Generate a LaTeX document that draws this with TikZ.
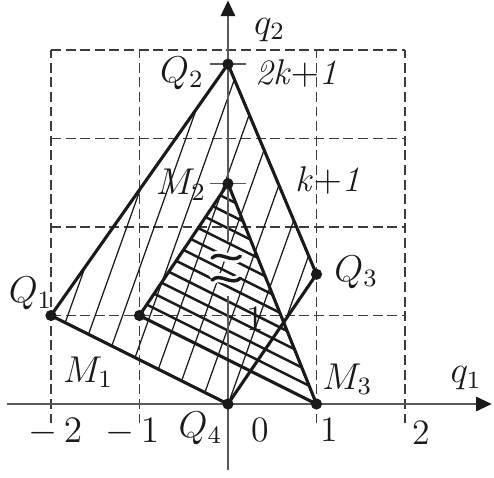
\documentclass[tikz,border=0pt]{standalone}
\usepackage{amsmath}
\usepackage{tikz}
\usetikzlibrary{arrows.meta,positioning,calc}
\definecolor{cAxis}{HTML}{5A5A5A}
\definecolor{cGrid}{HTML}{3C3C3C}
\definecolor{cInk}{HTML}{1A1A1A}
\tikzset{
  axis/.style={cAxis, line width=0.55pt},
  axisarr/.style={axis, -{Triangle[length=5pt, width=4.6pt, color=cInk]}},
  gridln/.style={cGrid, line width=0.5pt, dash pattern=on 3.2pt off 1.5pt},
  edge/.style={cInk, line width=1pt, line join=round},
  thinhatch/.style={cInk, line width=0.4pt},
  thickhatch/.style={cInk, line width=0.8pt},
  dot/.style={circle, fill=cInk, inner sep=0pt, minimum size=3.6pt},
  lbl/.style={font=\fontsize{11.5}{13}\selectfont, text=cInk, inner sep=0pt},
  tickln/.style={cAxis, line width=0.55pt},
  brk/.style={cInk, line width=1.1pt, line cap=round,
              preaction={draw, white, line width=3pt}}
}
\newcommand{\axbreak}[1]{\draw[brk] (-0.18,#1-0.01) .. controls (-0.09,#1+0.08) and (0.04,#1-0.08) .. (0.14,#1+0.01);}

\begin{document}
\begin{tikzpicture}
\useasboundingbox (-2.576,-0.825) rectangle (3.006,4.565);
% corner points
\coordinate (Q1) at (-2,1);
\coordinate (Q2) at (0,3.84);
\coordinate (Q3) at (1,1.466);
\coordinate (Q4) at (0,0);
\coordinate (M1) at (-1,1);
\coordinate (M2) at (0,2.49);
\coordinate (M3) at (1,0);
% dashed grid
\foreach \x in {-2,-1,1,2} \draw[gridln] (\x,-0.22) -- (\x,4);
\foreach \y in {1,...,4} \draw[gridln] (-2,\y) -- (2,\y);
% hatching of the quadrilateral
\begin{scope}
  \clip (Q1) -- (Q2) -- (Q3) -- (Q4) -- cycle;
  \foreach \k in {0,...,10} \draw[thinhatch] ({-2.346+0.31*\k},-0.5) -- ++(1.786,5);
\end{scope}
% hatching of the triangle
\begin{scope}
  \clip (M1) -- (M2) -- (M3) -- cycle;
  \foreach \k in {1,...,11} \draw[thickhatch] (-2,{1.5+0.165*\k}) -- (2,{-0.5+0.165*\k});
\end{scope}
% axes
\draw[axisarr] (-2.5,0) -- (2.98,0);
\draw[axis] (0,-0.75) -- (0,1.216);
\draw[axisarr] (0,1.84) -- (0,4.56);
\axbreak{1.66}
\axbreak{1.41}
\draw[tickln] ($(Q2)+(-0.2,0)$) -- ($(Q2)+(0.2,0)$);
\draw[tickln] ($(M2)+(-0.2,0)$) -- ($(M2)+(0.2,0)$);
% sets
\draw[edge] (Q1) -- (Q2) -- (Q3) -- (Q4) -- cycle;
\draw[edge] (M1) -- (M2) -- (M3) -- cycle;
\foreach \p in {Q1,Q2,Q3,Q4,M1,M2,M3} \node[dot] (d\p) at (\p) {};
% labels
\node[lbl] (lq2) at (0.47,4.23) {$q_2$};
\node[lbl] (lq1) at (2.69,0.29) {$q_1$};
\node[lbl] (lQ1) at (-2.23,1.25) {$Q_1$};
\node[lbl] (lQ2) at (-0.52,3.74) {$Q_2$};
\node[lbl] (lQ3) at (1.45,1.49) {$Q_3$};
\node[lbl] (lQ4) at (-0.31,-0.28) {$Q_4$};
\node[lbl] (lM1) at (-1.58,0.36) {$M_1$};
\node[lbl] (lM2) at (-0.53,2.48) {$M_2$};
\node[lbl] (lM3) at (1.35,0.28) {$M_3$};
\node[lbl] (lQ2v) at (0.77,3.74) {\textit{2k}$+$\textit{1}};
\node[lbl] (lM2v) at (1.13,2.53) {\textit{k}$+$\textit{1}};
\node[lbl] (lone) at (0.31,0.96) {1};
\node[lbl] (tm2) at (-1.95,-0.32) {$-\,2$};
\node[lbl] (tm1) at (-1.08,-0.32) {$-\,1$};
\node[lbl] (t0) at (0.36,-0.29) {0};
\node[lbl] (t1) at (1.15,-0.29) {1};
\node[lbl] (t2) at (2.18,-0.32) {2};
\end{tikzpicture}
\end{document}
